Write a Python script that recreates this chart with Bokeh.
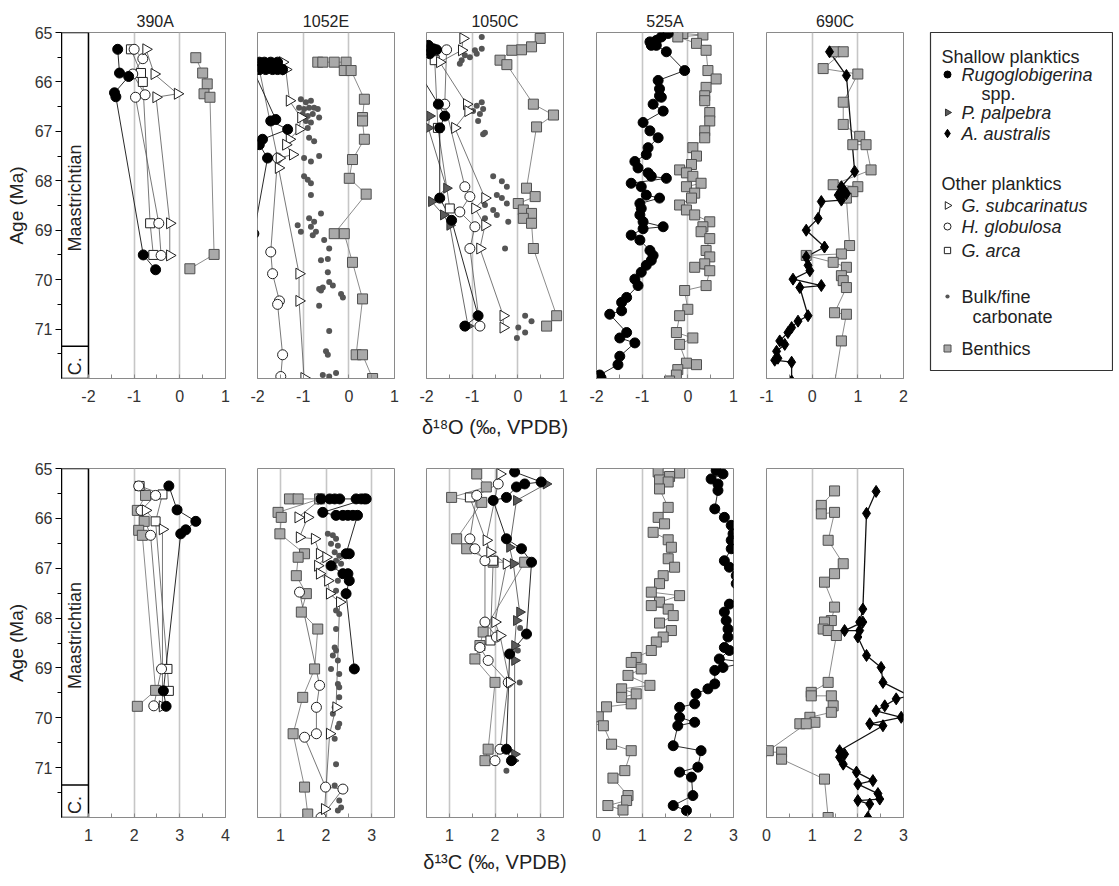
import numpy as np
from bokeh.plotting import figure
from bokeh.layouts import row, column
from bokeh.models import Range1d, FixedTicker, PrintfTickFormatter
from bokeh.core.properties import value
from bokeh.embed import file_html
from bokeh.resources import INLINE

FONT = "Liberation Sans"

SITES = ["390A", "1052E", "1050C", "525A", "690C"]
AGE_TICKS = [65, 66, 67, 68, 69, 70, 71]
AGE_MINOR = [65.5, 66.5, 67.5, 68.5, 69.5, 70.5, 71.5]
STAGE_BOUNDARY = 71.35
STAGES = ["Maastrichtian", "C."]
STAGE_LABEL_AGES = [68.35, 71.75]

# ---------------- d18O, site 390A ----------------
O390_RUGO_AGE = [65.34, 65.82, 65.89, 66.22, 66.30, 69.50, 69.80]
O390_RUGO = [-1.36, -1.32, -1.12, -1.43, -1.40, -0.80, -0.53]
O390_GARCA_AGE = [65.34, 65.82, 66.00, 68.86, 69.50]
O390_GARCA = [-1.07, -0.85, -0.81, -0.65, -0.58]
O390_HGLOB_AGE = [65.34, 65.53, 65.84, 66.26, 66.31, 68.86, 69.51]
O390_HGLOB = [-1.00, -0.81, -1.03, -0.76, -0.97, -0.46, -0.41]
O390_GSUB_AGE = [65.34, 65.84, 66.24, 66.31, 68.86, 69.51]
O390_GSUB = [-0.74, -0.56, -0.05, -0.52, -0.22, -0.22]
O390_BENTH_AGE = [65.51, 65.82, 66.04, 66.24, 66.31, 69.49, 69.78]
O390_BENTH = [0.35, 0.50, 0.60, 0.53, 0.66, 0.75, 0.22]

# ---------------- d18O, site 1052E ----------------
O1052_RUGO_AGE = [65.60, 65.60, 65.60, 65.60, 65.60, 65.75, 65.75, 65.75, 65.75, 65.75, 65.75,
                  66.76, 66.79, 66.96, 67.16, 67.27, 67.54, 69.07]
O1052_RUGO = [-2.08, -1.96, -1.85, -1.71, -1.56, -1.45, -1.56, -1.67, -1.82, -1.96, -2.10,
              -1.60, -1.71, -1.34, -1.89, -1.96, -1.78, -2.08]
O1052_GSUB_AGE = [65.60, 65.75, 66.38, 66.72, 66.96, 67.16, 67.27, 67.47, 67.54, 67.74, 69.88, 70.43, 71.99]
O1052_GSUB = [-1.45, -1.38, -1.30, -1.05, -1.09, -1.30, -1.38, -1.23, -1.52, -1.54, -1.09, -1.09, -0.98]
O1052_HGLOB_AGE = [65.75, 67.54, 69.44, 69.88, 70.43, 70.50, 71.52, 71.96]
O1052_HGLOB = [-1.96, -1.56, -1.71, -1.67, -1.52, -1.56, -1.45, -1.49]
O1052_BULK_AGE = [66.35, 66.41, 66.38, 66.52, 66.55, 66.52, 66.52, 66.55, 66.65, 66.69, 66.65, 66.72,
                  66.79, 66.82, 66.93, 67.13, 67.20, 67.54, 67.50, 67.61, 67.91, 67.98, 68.05, 68.29,
                  68.90, 69.03, 68.76, 68.83, 68.93, 69.03, 69.10, 68.66, 69.20, 69.37, 69.58, 69.61,
                  69.85, 70.05, 70.16, 70.19, 70.22, 70.12, 70.29, 70.36, 70.53, 71.04, 71.45, 71.52,
                  71.93, 71.96, 71.89]
O1052_BULK = [-1.05, -0.94, -0.83, -1.09, -0.98, -0.87, -0.76, -0.68, -1.01, -0.90, -0.79, -0.65,
              -0.94, -0.83, -0.90, -0.87, -0.76, -0.98, -0.65, -0.83, -0.98, -0.90, -0.83, -0.83,
              -1.12, -1.05, -0.87, -0.76, -0.83, -0.72, -0.79, -0.61, -0.54, -0.43, -0.46, -0.61,
              -0.46, -0.43, -0.57, -0.65, -0.61, -0.35, -0.17, -0.13, -0.65, -0.43, -0.50, -0.46,
              -0.57, -0.43, -0.28]
O1052_BENTH_AGE = [65.60, 65.60, 65.60, 65.60, 65.77, 65.77, 66.35, 66.72, 66.79, 67.16, 67.57, 67.95,
                   68.27, 69.07, 69.07, 69.65, 70.39, 71.52, 71.52, 72.00]
O1052_BENTH = [-0.68, -0.57, -0.32, -0.06, -0.10, 0.05, 0.34, 0.30, 0.30, 0.34, 0.08, 0.01,
               0.38, -0.32, -0.10, 0.08, 0.30, 0.16, 0.30, 0.52]

# ---------------- d18O, site 1050C ----------------
O1050_RUGO_AGE = [65.09, 65.26, 65.33, 65.35, 65.36, 65.43, 65.56, 65.67, 66.45, 66.69, 66.93, 68.35, 68.80, 70.73, 70.94]
O1050_RUGO = [-2.26, -1.96, -1.85, -1.78, -2.04, -1.93, -2.33, -2.26, -1.74, -1.60, -1.71, -1.71, -1.45, -0.87, -1.16]
O1050_PALP_AGE = [66.69, 66.93, 68.15, 68.42, 68.69, 68.90, 70.94]
O1050_PALP = [-1.93, -1.96, -1.56, -1.89, -1.63, -1.49, -1.09]
O1050_HGLOB_AGE = [65.35, 66.45, 68.12, 68.32, 68.63, 68.93, 69.37, 70.94]
O1050_HGLOB = [-1.56, -1.60, -1.16, -1.05, -1.27, -0.94, -1.05, -0.83]
O1050_GARCA_AGE = [65.56, 66.93, 68.56]
O1050_GARCA = [-1.82, -1.75, -1.49]
O1050_GSUB_AGE = [65.12, 65.36, 65.60, 66.45, 66.59, 66.93, 68.35, 68.56, 68.90, 69.37, 70.73, 70.97]
O1050_GSUB = [-1.20, -1.23, -1.71, -1.12, -1.09, -1.38, -0.72, -0.94, -0.72, -0.83, -0.32, -0.32]
O1050_BULK_AGE = [65.09, 65.33, 65.36, 65.43, 65.46, 65.50, 65.56, 65.63, 66.41, 66.48, 66.55, 66.59,
                  66.65, 66.79, 67.03, 67.06, 67.91, 68.01, 68.12, 68.29, 68.35, 68.46, 68.49, 68.59,
                  68.69, 68.76, 68.83, 69.37, 70.73, 70.84, 70.97, 71.07, 71.18]
O1050_BULK = [-0.79, -0.79, -0.94, -0.90, -1.16, -1.05, -1.23, -1.27, -0.79, -0.90, -0.76, -0.98,
              -0.83, -0.87, -0.72, -0.76, -0.54, -0.35, -0.24, -0.46, -0.35, -0.24, -0.72, -0.54,
              -0.46, -0.72, -0.21, -0.28, 0.16, 0.30, 0.01, 0.16, -0.02]
O1050_BENTH_AGE = [65.12, 65.29, 65.35, 65.36, 65.56, 65.65, 66.45, 66.67, 66.91, 68.15, 68.32, 68.46,
                   68.59, 68.66, 68.76, 68.86, 69.37, 70.73, 70.94]
O1050_BENTH = [0.49, 0.30, 0.08, -0.13, -0.39, -0.24, 0.34, 0.78, 0.41, 0.19, 0.38, 0.01,
               0.12, 0.30, 0.12, 0.30, 0.34, 0.85, 0.63]

# ---------------- d18O, site 525A ----------------
O525_RUGO_AGE = [65.02, 65.09, 65.16, 65.19, 65.26, 65.26, 65.39, 65.77, 65.97, 66.14, 66.28, 66.31,
                 66.45, 66.59, 66.82, 66.99, 67.13, 67.33, 67.47, 67.61, 67.74, 67.84, 67.91, 67.95,
                 68.05, 68.12, 68.29, 68.35, 68.46, 68.56, 68.69, 68.83, 68.93, 68.97, 69.10, 69.20,
                 69.41, 69.51, 69.61, 69.71, 69.85, 69.99, 70.12, 70.36, 70.46, 70.63, 70.70, 71.07,
                 71.18, 71.28, 71.55, 71.72, 71.93, 71.99]
O525_RUGO = [-0.43, -0.58, -0.69, -0.83, -0.80, -0.69, -0.47, -0.07, -0.65, -0.62, -0.62, -0.58,
             -0.76, -0.54, -0.98, -0.83, -0.65, -0.87, -0.91, -1.16, -1.09, -0.87, -0.80, -0.47,
             -1.24, -1.02, -0.91, -0.62, -1.05, -1.02, -1.05, -0.98, -0.54, -0.98, -1.24, -1.05,
             -0.83, -0.76, -0.80, -0.91, -1.02, -1.16, -1.09, -1.34, -1.45, -1.45, -1.71, -1.34,
             -1.49, -1.16, -1.49, -1.53, -1.93, -1.90]
O525_BENTH_AGE = [65.02, 65.05, 65.09, 65.22, 65.36, 65.77, 65.94, 66.11, 66.28, 66.38, 66.62, 66.79,
                  66.99, 67.13, 67.33, 67.50, 67.67, 67.78, 67.84, 67.91, 68.05, 68.12, 68.25, 68.35,
                  68.49, 68.59, 68.69, 68.83, 68.93, 69.03, 69.17, 69.41, 69.54, 69.68, 69.75, 69.82,
                  70.12, 70.22, 70.60, 70.73, 71.07, 71.18, 71.31, 71.69, 71.72, 71.82, 71.93, 72.05]
O525_BENTH = [-0.11, 0.33, -0.22, 0.19, 0.40, 0.44, 0.62, 0.40, 0.37, 0.37, 0.48, 0.48,
              0.37, 0.37, 0.11, 0.19, 0.08, -0.18, -0.03, 0.11, 0.29, -0.03, 0.15, 0.08,
              -0.18, -0.03, 0.15, 0.48, 0.33, 0.29, 0.48, 0.40, 0.48, 0.37, 0.15, 0.48,
              0.40, -0.07, 0.00, -0.18, -0.25, 0.11, -0.18, -0.03, 0.19, -0.22, -0.25, -0.40]

# ---------------- d18O, site 690C ----------------
O690_BENTH_AGE = [65.39, 65.39, 65.73, 65.84, 66.41, 66.86, 67.10, 67.27, 67.27, 67.78, 68.08, 68.12,
                  68.22, 68.35, 69.31, 69.48, 69.51, 69.65, 69.75, 69.92, 70.02, 70.16, 70.67, 70.70,
                  71.24, 72.10]
O690_BENTH = [0.49, 0.68, 0.24, 1.00, 0.68, 0.68, 1.04, 0.89, 1.18, 1.29, 0.46, 1.00,
              0.89, 0.75, 0.82, 0.64, -0.13, 0.46, 0.75, 0.64, 0.68, 0.75, 0.49, 0.75,
              0.64, 0.49]
O690_DIAM_AGE = [65.39, 65.87, 67.81, 68.12, 68.18, 68.22, 68.26, 68.29, 68.33, 68.39, 68.42, 68.76,
                 69.00, 69.34, 69.54, 69.71, 69.82, 69.99, 70.12, 70.16, 70.73, 70.84, 70.97, 71.07,
                 71.24, 71.31, 71.45, 71.59, 71.63, 71.67, 72.05]
O690_DIAM = [0.38, 0.75, 0.93, 0.64, 0.68, 0.71, 0.75, 0.57, 0.62, 0.64, 0.20, 0.13,
             -0.13, 0.27, -0.13, -0.09, -0.05, -0.42, 0.20, -0.27, -0.09, -0.31, -0.45, -0.53,
             -0.71, -0.60, -0.78, -0.75, -0.82, -0.45, -0.45]

# ---------------- d13C, site 390A ----------------
C390_RUGO_AGE = [65.35, 65.83, 66.06, 66.23, 66.31, 69.46, 69.77]
C390_RUGO = [2.76, 2.94, 3.35, 3.13, 3.02, 2.64, 2.70]
C390_HGLOB_AGE = [65.35, 65.54, 65.84, 66.34, 69.02, 69.76]
C390_HGLOB = [2.10, 2.47, 2.15, 2.36, 2.60, 2.43]
C390_GARCA_AGE = [65.35, 65.52, 66.06, 69.02, 69.46]
C390_GARCA = [2.12, 2.62, 2.47, 2.73, 2.76]
C390_GSUB_AGE = [65.84, 66.22, 69.77]
C390_GSUB = [2.25, 2.62, 2.62]
C390_BENTH_AGE = [65.54, 65.84, 66.06, 66.24, 66.34, 69.45, 69.77]
C390_BENTH = [2.25, 2.07, 2.22, 2.10, 2.18, 2.47, 2.07]

# ---------------- d13C, site 1052E ----------------
C1052_RUGO_AGE = [65.61, 65.61, 65.61, 65.61, 65.61, 65.61, 65.61, 65.61, 65.88, 65.94, 65.94, 65.94,
                  65.94, 65.94, 66.71, 66.71, 66.95, 67.11, 67.11, 67.25, 67.51, 69.02]
C1052_RUGO = [1.89, 2.08, 2.19, 2.30, 2.66, 2.77, 2.84, 2.88, 1.93, 2.22, 2.37, 2.48,
              2.59, 2.69, 2.44, 2.51, 2.11, 2.37, 2.48, 2.51, 2.44, 2.62]
C1052_GSUB_AGE = [65.61, 65.98, 65.98, 66.38, 66.41, 66.71, 66.78, 66.95, 67.11, 67.25, 67.51, 67.68, 69.79, 70.32, 71.83]
C1052_GSUB = [1.89, 1.39, 1.60, 1.42, 1.75, 1.86, 2.00, 1.82, 1.86, 2.04, 2.08, 2.30, 2.22, 2.08, 1.97]
C1052_HGLOB_AGE = [67.48, 69.35, 69.79, 70.32, 70.39, 71.39, 71.43, 72.00]
C1052_HGLOB = [1.42, 1.86, 1.79, 1.79, 1.53, 1.99, 2.37, 1.89]
C1052_BENTH_AGE = [65.61, 65.61, 65.61, 65.88, 65.98, 66.31, 66.71, 66.78, 67.15, 67.51, 67.88, 68.22,
                   69.02, 69.59, 70.32, 71.39, 71.93]
C1052_BENTH = [1.20, 1.39, 1.86, 0.95, 1.02, 0.99, 1.53, 1.39, 1.35, 1.57, 1.46, 1.82,
               1.75, 1.49, 1.28, 1.53, 1.60]
C1052_BULK_AGE = [66.31, 66.34, 66.41, 66.51, 66.55, 66.68, 66.75, 66.85, 66.91, 66.98, 67.25, 67.45,
                  67.65, 67.85, 67.92, 68.22, 68.59, 68.65, 68.75, 68.85, 69.02, 69.12, 69.32, 69.39,
                  69.59, 69.79, 69.92, 70.12, 70.19, 70.42, 70.93, 71.36, 71.66, 71.80, 71.86]
C1052_BULK = [2.04, 2.15, 2.22, 2.11, 2.26, 2.19, 2.29, 2.22, 2.33, 2.19, 2.26, 2.22,
              2.29, 2.22, 2.29, 2.22, 2.19, 2.22, 2.15, 2.26, 2.11, 2.29, 2.26, 2.29,
              2.29, 2.19, 2.15, 2.29, 2.26, 2.19, 2.22, 2.19, 2.29, 2.33, 2.26]

# ---------------- d13C, site 1050C ----------------
C1050_RUGO_AGE = [65.07, 65.27, 65.31, 65.37, 65.58, 65.64, 66.41, 66.61, 66.88, 68.32, 68.72, 70.63, 70.86]
C1050_RUGO = [2.43, 3.01, 2.65, 2.47, 2.25, 1.96, 2.25, 2.58, 2.80, 2.69, 2.32, 2.25, 2.36]
C1050_PALP_AGE = [65.31, 65.64, 66.58, 66.91, 67.88, 68.05, 68.55, 68.85, 70.73, 70.86]
C1050_PALP = [3.12, 2.47, 2.32, 2.40, 2.54, 2.47, 2.43, 2.43, 2.43, 2.40]
C1050_HGLOB_AGE = [65.31, 65.54, 66.41, 66.61, 66.85, 68.08, 68.38, 68.59, 68.85, 69.29, 70.63, 70.86]
C1050_HGLOB = [2.07, 1.60, 1.45, 1.56, 1.78, 1.78, 2.03, 1.67, 1.85, 2.29, 2.11, 2.00]
C1050_GARCA_AGE = [65.58, 66.85, 68.45]
C1050_GARCA = [1.45, 1.96, 1.90]
C1050_GSUB_AGE = [65.11, 66.44, 66.68, 66.91, 68.08, 68.35, 69.29]
C1050_GSUB = [2.11, 1.81, 1.89, 2.25, 2.00, 2.11, 2.32]
C1050_BULK_AGE = [68.20, 68.65, 69.29, 71.06]
C1050_BULK = [2.55, 2.50, 2.54, 2.25]
C1050_BENTH_AGE = [65.11, 65.37, 65.58, 65.68, 66.41, 66.61, 66.88, 66.88, 68.28, 68.55, 68.82, 69.29, 70.63, 70.86]
C1050_BENTH = [1.60, 1.81, 1.05, 1.71, 1.16, 1.38, 1.96, 2.65, 1.74, 1.67, 1.56, 2.00, 1.85, 1.78]

# ---------------- d13C, site 525A ----------------
C525_RUGO_AGE = [65.04, 65.11, 65.21, 65.31, 65.44, 65.81, 65.98, 66.14, 66.31, 66.44, 66.61, 66.85,
                 66.98, 67.15, 67.31, 67.48, 67.52, 67.72, 67.88, 68.05, 68.22, 68.38, 68.59, 68.65,
                 68.82, 68.89, 68.99, 69.05, 69.32, 69.42, 69.52, 69.72, 69.79, 69.99, 70.09, 70.16,
                 70.56, 70.66, 70.99, 71.09, 71.19, 71.56, 71.76, 71.86]
C525_RUGO = [2.62, 2.77, 2.51, 2.66, 2.66, 2.59, 2.80, 2.95, 2.99, 2.95, 2.95, 2.80,
             2.91, 3.06, 3.06, 3.42, 3.13, 2.91, 2.80, 2.84, 2.88, 2.88, 2.80, 2.91,
             2.69, 3.28, 2.77, 2.59, 2.59, 2.44, 2.18, 2.15, 1.82, 1.82, 2.15, 1.78,
             1.68, 2.29, 2.22, 1.82, 2.08, 2.11, 1.68, 1.97]
C525_BENTH_AGE = [65.07, 65.09, 65.16, 65.23, 65.27, 65.41, 65.78, 65.98, 66.11, 66.28, 66.43, 66.58,
                  66.81, 66.98, 67.15, 67.31, 67.48, 67.55, 67.68, 67.75, 67.82, 67.95, 68.10, 68.25,
                  68.38, 68.48, 68.65, 68.79, 68.89, 69.02, 69.15, 69.35, 69.42, 69.52, 69.59, 69.72,
                  69.78, 69.98, 70.09, 70.16, 70.53, 70.66, 71.06, 71.21, 71.56, 71.66, 71.76, 71.85]
C525_BENTH = [1.35, 1.82, 1.60, 1.38, 1.57, 1.38, 1.57, 1.35, 1.49, 1.24, 1.57, 1.64,
              1.57, 1.71, 1.46, 1.38, 1.20, 1.82, 1.38, 1.20, 1.57, 1.68, 1.38, 1.64,
              1.46, 1.31, 1.20, 0.87, 0.76, 0.98, 0.69, 1.17, 0.55, 0.87, 0.55, 0.76,
              0.22, 0.04, -0.18, 0.15, 0.33, 0.76, 0.62, 0.36, 0.69, 0.66, 0.25, 0.58]

# ---------------- d13C, site 690C ----------------
C690_BENTH_AGE = [65.45, 65.74, 65.91, 65.88, 66.44, 66.91, 67.11, 67.28, 67.78, 68.05, 68.08, 68.22,
                  68.25, 68.35, 69.29, 69.49, 69.56, 69.56, 69.76, 69.89, 69.99, 70.09, 70.12, 70.12,
                  70.66, 70.69, 70.69, 70.83, 71.23, 72.00]
C690_BENTH = [1.49, 1.20, 1.20, 1.49, 1.35, 1.68, 1.49, 1.27, 1.49, 1.42, 1.27, 1.24,
              1.35, 1.53, 1.35, 0.98, 0.98, 1.42, 1.46, 1.42, 0.95, 1.06, 0.73, 0.87,
              0.04, -0.11, 0.33, 0.33, 1.27, 1.35]
C690_DIAM_AGE = [65.46, 65.90, 67.82, 68.08, 68.08, 68.25, 68.25, 68.38, 68.75, 68.99, 69.29, 69.56,
                 69.62, 69.76, 69.86, 69.99, 70.12, 70.16, 70.66, 70.73, 70.79, 70.93, 71.09, 71.26,
                 71.33, 71.52, 71.63, 71.66, 71.73, 72.00]
C690_DIAM = [2.40, 2.19, 2.11, 2.04, 2.11, 1.71, 2.04, 2.00, 2.19, 2.51, 2.55, 3.13,
             2.84, 2.59, 2.40, 2.95, 2.26, 2.55, 1.60, 1.71, 1.60, 1.68, 1.97, 2.33,
             2.00, 2.44, 2.48, 2.00, 2.26, 2.22]

# legend entries
LEGEND_HEAD = ["Shallow planktics", "Other planktics"]
LEGEND_ITEMS = [("rugo", "Rugoglobigerina"), ("palp", "P. palpebra"), ("diam", "A. australis"),
                ("gsub", "G. subcarinatus"), ("hglob", "H. globulosa"), ("garca", "G. arca"),
                ("bulk", "Bulk/fine"), ("benth", "Benthics")]

# ---------------- styles ----------------
HALF_PI = np.pi / 2
STYLE = {
    "benth": dict(marker="square", size=10, fill="#a9a9a9", edge="#4f4f4f", angle=0.0, line="#8c8c8c", lw=1.0),
    "bulk": dict(marker="circle", size=6, fill="#555555", edge=None, angle=0.0, line=None, lw=0),
    "garca": dict(marker="square", size=9, fill="white", edge="#222222", angle=0.0, line="#555555", lw=0.8),
    "hglob": dict(marker="circle", size=10, fill="white", edge="#222222", angle=0.0, line="#555555", lw=0.8),
    "gsub": dict(marker="triangle", size=11, fill="white", edge="#222222", angle=-HALF_PI, line="#555555", lw=0.8),
    "palp": dict(marker="triangle", size=10, fill="#5a5a5a", edge="#333333", angle=-HALF_PI, line="#444444", lw=0.8),
    "rugo": dict(marker="circle", size=10, fill="black", edge="black", angle=0.0, line="#111111", lw=0.9),
    "diam": dict(marker="diamond", size=12, fill="black", edge="black", angle=0.0, line="#111111", lw=1.3),
}
ORDER = ["benth", "bulk", "garca", "hglob", "gsub", "palp", "rugo", "diam"]

TOP_SERIES = [
    {"benth": (O390_BENTH, O390_BENTH_AGE), "garca": (O390_GARCA, O390_GARCA_AGE), "hglob": (O390_HGLOB, O390_HGLOB_AGE),
     "gsub": (O390_GSUB, O390_GSUB_AGE), "rugo": (O390_RUGO, O390_RUGO_AGE)},
    {"benth": (O1052_BENTH, O1052_BENTH_AGE), "bulk": (O1052_BULK, O1052_BULK_AGE), "hglob": (O1052_HGLOB, O1052_HGLOB_AGE),
     "gsub": (O1052_GSUB, O1052_GSUB_AGE), "rugo": (O1052_RUGO, O1052_RUGO_AGE)},
    {"benth": (O1050_BENTH, O1050_BENTH_AGE), "bulk": (O1050_BULK, O1050_BULK_AGE), "garca": (O1050_GARCA, O1050_GARCA_AGE),
     "hglob": (O1050_HGLOB, O1050_HGLOB_AGE), "gsub": (O1050_GSUB, O1050_GSUB_AGE), "palp": (O1050_PALP, O1050_PALP_AGE),
     "rugo": (O1050_RUGO, O1050_RUGO_AGE)},
    {"benth": (O525_BENTH, O525_BENTH_AGE), "rugo": (O525_RUGO, O525_RUGO_AGE)},
    {"benth": (O690_BENTH, O690_BENTH_AGE), "diam": (O690_DIAM, O690_DIAM_AGE)},
]
BOT_SERIES = [
    {"benth": (C390_BENTH, C390_BENTH_AGE), "garca": (C390_GARCA, C390_GARCA_AGE), "hglob": (C390_HGLOB, C390_HGLOB_AGE),
     "gsub": (C390_GSUB, C390_GSUB_AGE), "rugo": (C390_RUGO, C390_RUGO_AGE)},
    {"benth": (C1052_BENTH, C1052_BENTH_AGE), "bulk": (C1052_BULK, C1052_BULK_AGE), "hglob": (C1052_HGLOB, C1052_HGLOB_AGE),
     "gsub": (C1052_GSUB, C1052_GSUB_AGE), "rugo": (C1052_RUGO, C1052_RUGO_AGE)},
    {"benth": (C1050_BENTH, C1050_BENTH_AGE), "bulk": (C1050_BULK, C1050_BULK_AGE), "garca": (C1050_GARCA, C1050_GARCA_AGE),
     "hglob": (C1050_HGLOB, C1050_HGLOB_AGE), "gsub": (C1050_GSUB, C1050_GSUB_AGE), "palp": (C1050_PALP, C1050_PALP_AGE),
     "rugo": (C1050_RUGO, C1050_RUGO_AGE)},
    {"benth": (C525_BENTH, C525_BENTH_AGE), "rugo": (C525_RUGO, C525_RUGO_AGE)},
    {"benth": (C690_BENTH, C690_BENTH_AGE), "diam": (C690_DIAM, C690_DIAM_AGE)},
]

TOP_XR = [(-2.59, 1.0), (-2.0, 1.0), (-2.0, 1.0), (-2.0, 1.0), (-1.0, 2.0)]
TOP_TICKS = [[-2, -1, 0, 1]] * 4 + [[-1, 0, 1, 2]]
TOP_MINOR = [[-1.5, -0.5, 0.5]] * 4 + [[-0.5, 0.5, 1.5]]
BOT_XR = [(0.41, 4.0), (0.5, 3.5), (0.5, 3.5), (0.0, 3.0), (0.0, 3.0)]
BOT_TICKS = [[1, 2, 3, 4], [1, 2, 3], [1, 2, 3], [0, 1, 2, 3], [0, 1, 2, 3]]
BOT_MINOR = [[1.5, 2.5, 3.5], [1.5, 2.5], [1.5, 2.5], [0.5, 1.5, 2.5], [0.5, 1.5, 2.5]]

FRAME_W = [164, 137, 137, 137, 137]
BORDER_L = [54, 22, 22, 23, 23]
BORDER_R = 10

TICK_COLOR = "#333333"
FRAME_COLOR = "#8a8a8a"


def make_panel(i, xr, ticks, minor, frame_h, bt, bb, title=None, xlabel=None, label_standoff=10):
    first = (i == 0)
    p = figure(x_range=Range1d(*xr), y_range=Range1d(72, 65),
               frame_width=FRAME_W[i], frame_height=frame_h,
               min_border_left=BORDER_L[i], min_border_right=BORDER_R,
               min_border_top=bt, min_border_bottom=bb,
               toolbar_location=None, output_backend="svg",
               y_axis_location="left" if first else None)
    p.outline_line_color = FRAME_COLOR
    p.outline_line_width = 1
    tk = FixedTicker(ticks=ticks, minor_ticks=minor)
    ax = p.xaxis[0]
    ax.ticker = tk
    ax.formatter = PrintfTickFormatter(format="%d")
    ax.axis_line_color = FRAME_COLOR
    ax.major_tick_line_color = FRAME_COLOR
    ax.minor_tick_line_color = FRAME_COLOR
    ax.major_tick_in = 4
    ax.major_tick_out = 0
    ax.minor_tick_in = 4
    ax.minor_tick_out = 0
    ax.major_label_standoff = 11
    ax.major_label_text_font = FONT
    ax.major_label_text_font_size = "16px"
    ax.major_label_text_color = TICK_COLOR
    if xlabel:
        ax.axis_label = xlabel
        ax.axis_label_text_font = FONT
        ax.axis_label_text_font_size = "20px"
        ax.axis_label_text_font_style = "normal"
        ax.axis_label_text_color = "#222222"
        ax.axis_label_standoff = label_standoff
    p.xgrid.ticker = tk
    p.xgrid.grid_line_color = "#c6c6c6"
    p.xgrid.grid_line_width = 1.6
    p.ygrid.visible = False
    if first:
        ya = p.yaxis[0]
        ya.ticker = FixedTicker(ticks=AGE_TICKS, minor_ticks=AGE_MINOR)
        ya.axis_line_color = "black"
        ya.major_tick_line_color = "black"
        ya.minor_tick_line_color = "black"
        ya.major_tick_in = 0
        ya.major_tick_out = 6
        ya.minor_tick_in = 0
        ya.minor_tick_out = 4
        ya.major_label_standoff = 3
        ya.major_label_text_font = FONT
        ya.major_label_text_font_size = "16px"
        ya.major_label_text_color = TICK_COLOR
        ya.axis_label = "Age (Ma)"
        ya.axis_label_text_font = FONT
        ya.axis_label_text_font_size = "19px"
        ya.axis_label_text_font_style = "normal"
        ya.axis_label_text_color = "#222222"
        ya.axis_label_standoff = 5
        # stage column
        left, right = xr[0], ticks[0]
        p.quad(left=[left], right=[right], top=[65], bottom=[72], fill_color="white",
               line_color="black", line_width=1.5)
        p.segment(x0=[left], x1=[right], y0=[STAGE_BOUNDARY], y1=[STAGE_BOUNDARY],
                  line_color="black", line_width=1.5)
        mid = (left + right) / 2
        p.text(x=[mid, mid], y=STAGE_LABEL_AGES, text=STAGES, angle=HALF_PI,
               text_align="center", text_baseline="middle", text_font=value(FONT),
               text_font_size="18px", text_color="#222222")
    if title:
        p.title.text = title
        p.title.text_font = FONT
        p.title.text_font_size = "16px"
        p.title.text_font_style = "normal"
        p.title.text_color = "#222222"
        p.title.standoff = 5
        if first:
            p.title.align = "left"
            p.title.offset = 75
        else:
            p.title.align = "center"
    return p


def add_data(p, series):
    for key in ORDER:
        if key in series and STYLE[key]["line"] is not None:
            xs, ys = series[key]
            p.line(xs, ys, line_color=STYLE[key]["line"], line_width=STYLE[key]["lw"])
    for key in ORDER:
        if key in series:
            xs, ys = series[key]
            st = STYLE[key]
            p.scatter(xs, ys, marker=st["marker"], size=st["size"], fill_color=st["fill"],
                      line_color=st["edge"], line_width=1, angle=st["angle"])


top_figs = []
for i in range(5):
    p = make_panel(i, TOP_XR[i], TOP_TICKS[i], TOP_MINOR[i], 346, 24, 64, title=SITES[i],
                   xlabel="\u03b4\u00b9\u2078O (\u2030, VPDB)" if i == 2 else None, label_standoff=11)
    add_data(p, TOP_SERIES[i])
    top_figs.append(p)

# legend panel
lg = figure(x_range=Range1d(0, 183), y_range=Range1d(338, 0), frame_width=183, frame_height=338,
            min_border_left=17, min_border_right=0, min_border_top=21, min_border_bottom=75,
            toolbar_location=None, output_backend="svg", x_axis_location=None, y_axis_location=None)
lg.grid.visible = False
lg.outline_line_color = "#333333"
lg.outline_line_width = 1.2
head_y = [24, 151]
lg.text(x=[11, 11], y=head_y, text=LEGEND_HEAD, text_font=value(FONT), text_font_size="18px",
        text_baseline="middle", text_color="#222222")
item_y = [42, 80, 101, 173, 194, 218, 264, 316]
italic = [True, True, True, True, True, True, False, False]
for (key, label), yy, it in zip(LEGEND_ITEMS, item_y, italic):
    st = STYLE[key]
    lg.scatter([17], [yy], marker=st["marker"], size=st["size"] * 0.7, fill_color=st["fill"],
               line_color=st["edge"], line_width=1, angle=st["angle"])
    lg.text(x=[31], y=[yy], text=[label], text_font=value(FONT), text_font_size="18px",
            text_font_style="italic" if it else "normal", text_baseline="middle", text_color="#222222")
lg.text(x=[51, 42], y=[61, 284], text=["spp.", "carbonate"], text_font=value(FONT), text_font_size="18px",
        text_baseline="middle", text_color="#222222")

bot_figs = []
for i in range(5):
    p = make_panel(i, BOT_XR[i], BOT_TICKS[i], BOT_MINOR[i], 349, 26, 58,
                   xlabel="\u03b4\u00b9\u00b3C (\u2030, VPDB)" if i == 2 else None, label_standoff=7)
    add_data(p, BOT_SERIES[i])
    bot_figs.append(p)

layout = column(row(*top_figs, lg), row(*bot_figs), margin=(8, 0, 0, 2))
open("out.html", "w").write(file_html(layout, INLINE))
